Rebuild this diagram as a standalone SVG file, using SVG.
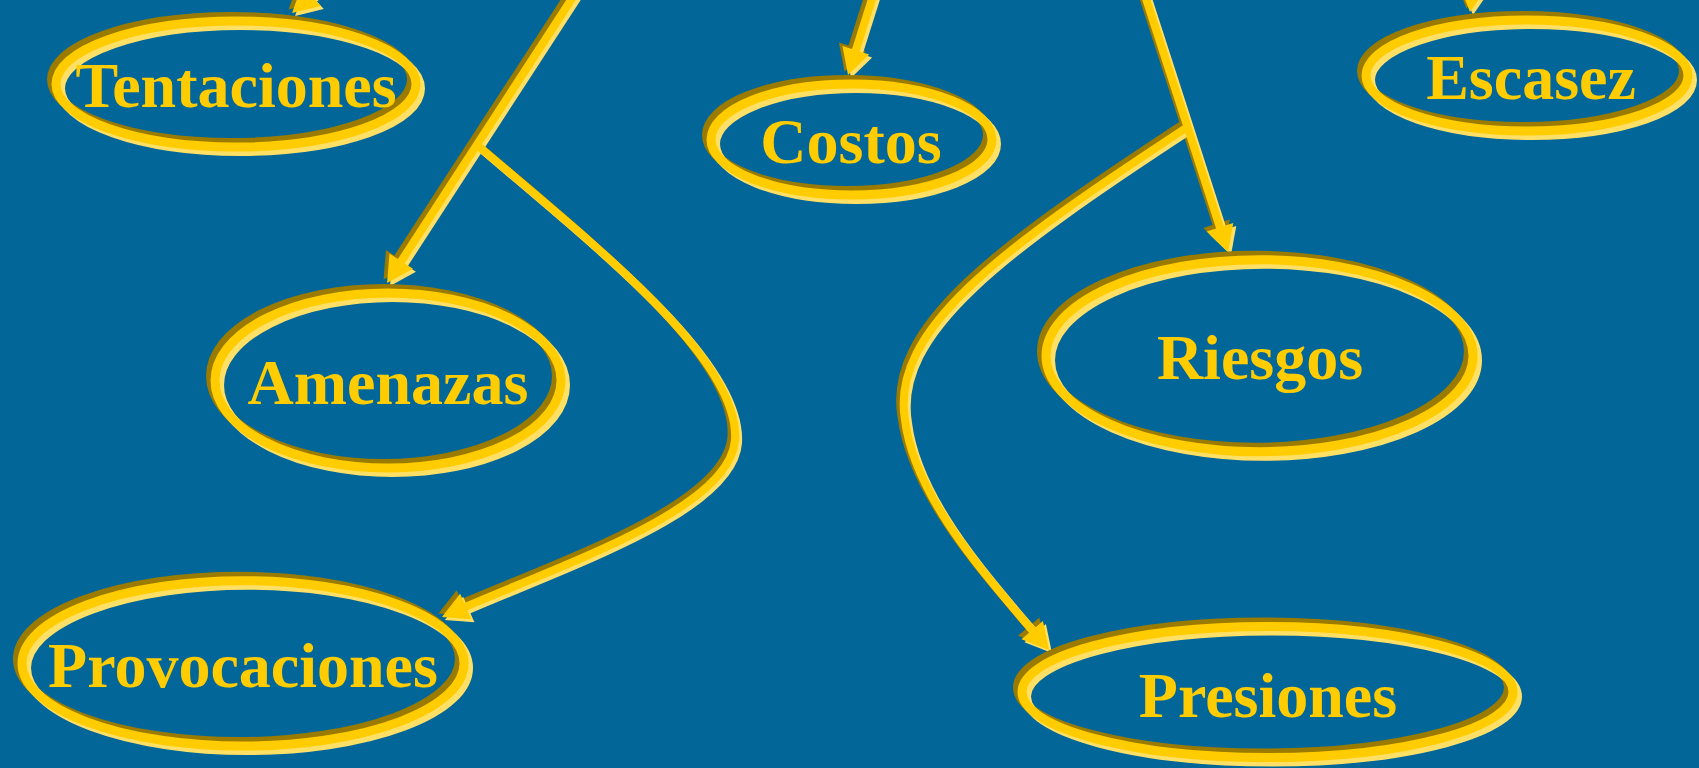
<svg xmlns="http://www.w3.org/2000/svg" xmlns:xlink="http://www.w3.org/1999/xlink" width="1699" height="768" viewBox="0 0 1699 768">
<style>
.bg{fill:#036699}
.e{fill:none;stroke-width:9}
.c{fill:none;stroke-width:8}
.dk{stroke:#9a7b00}
.lt{stroke:#ffe066}
.gd{stroke:#ffcc00}
.c.dk{marker-end:url(#mdk)}
.c.lt{marker-end:url(#mlt)}
.c.gd{marker-end:url(#mgd)}
.lbl{font-family:"Liberation Serif","Times New Roman",serif;font-weight:bold;font-size:64px;fill:#ffcc00;text-anchor:middle}
</style>
<defs>
<marker id="mdk" markerUnits="userSpaceOnUse" viewBox="-22 -16 32 32" refX="0" refY="0" markerWidth="32" markerHeight="32" orient="auto" overflow="visible"><path d="M-18,-14 L8,0 L-18,14 Z" fill="#9a7b00"/></marker>
<marker id="mlt" markerUnits="userSpaceOnUse" viewBox="-22 -16 32 32" refX="0" refY="0" markerWidth="32" markerHeight="32" orient="auto" overflow="visible"><path d="M-18,-14 L8,0 L-18,14 Z" fill="#ffe066"/></marker>
<marker id="mgd" markerUnits="userSpaceOnUse" viewBox="-22 -16 32 32" refX="0" refY="0" markerWidth="32" markerHeight="32" orient="auto" overflow="visible"><path d="M-18,-14 L8,0 L-18,14 Z" fill="#ffcc00"/></marker>
<path id="p1" d="M345,-35 L298,7.7"/>
<path id="p2" d="M584,-20 L391.4,276.3"/>
<path id="p3" d="M477,145 C600,250 740,360 735,440 C730,510 560,565 449.3,613.8"/>
<path id="p4" d="M878,-20 L850.4,67.4"/>
<path id="p5" d="M1140,-20 L1225.5,244.4"/>
<path id="p6" d="M1186,128 C1000,250 890,330 905,420 C915,500 990,580 1043.8,643.9"/>
<path id="p7" d="M1478,-60 L1470.9,4"/>
</defs>
<rect class="bg" x="0" y="0" width="1699" height="768"/>
<g id="connectors">
<use xlink:href="#p1" class="c dk" transform="translate(-3.5,-3.5)"/>
<use xlink:href="#p2" class="c dk" transform="translate(-3.5,-3.5)"/>
<use xlink:href="#p3" class="c dk" transform="translate(-3.5,-3.5)"/>
<use xlink:href="#p4" class="c dk" transform="translate(-3.5,-3.5)"/>
<use xlink:href="#p5" class="c dk" transform="translate(-3.5,-3.5)"/>
<use xlink:href="#p6" class="c dk" transform="translate(-3.5,-3.5)"/>
<use xlink:href="#p7" class="c dk" transform="translate(-3.5,-3.5)"/>
<use xlink:href="#p1" class="c lt" transform="translate(3,3)"/>
<use xlink:href="#p2" class="c lt" transform="translate(3,3)"/>
<use xlink:href="#p3" class="c lt" transform="translate(3,3)"/>
<use xlink:href="#p4" class="c lt" transform="translate(3,3)"/>
<use xlink:href="#p5" class="c lt" transform="translate(3,3)"/>
<use xlink:href="#p6" class="c lt" transform="translate(3,3)"/>
<use xlink:href="#p7" class="c lt" transform="translate(3,3)"/>
<use xlink:href="#p1" class="c gd"/>
<use xlink:href="#p2" class="c gd"/>
<use xlink:href="#p3" class="c gd"/>
<use xlink:href="#p4" class="c gd"/>
<use xlink:href="#p5" class="c gd"/>
<use xlink:href="#p6" class="c gd"/>
<use xlink:href="#p7" class="c gd"/>
</g>
<g id="tentaciones">
<ellipse class="e dk" cx="231.5" cy="79.5" rx="180" ry="63"/>
<ellipse class="e lt" cx="240.5" cy="88.5" rx="180" ry="63"/>
<ellipse class="e gd" cx="236" cy="84" rx="180" ry="63"/>
<text class="lbl" x="236" y="107">Tentaciones</text>
</g>
<g id="costos">
<ellipse class="e dk" cx="847" cy="135" rx="140.5" ry="55.5"/>
<ellipse class="e lt" cx="856" cy="144" rx="140.5" ry="55.5"/>
<ellipse class="e gd" cx="851.5" cy="139.5" rx="140.5" ry="55.5"/>
<text class="lbl" x="851" y="163">Costos</text>
</g>
<g id="escasez">
<ellipse class="e dk" cx="1522.5" cy="71" rx="161" ry="55.5"/>
<ellipse class="e lt" cx="1531.5" cy="80" rx="161" ry="55.5"/>
<ellipse class="e gd" cx="1527" cy="75.5" rx="161" ry="55.5"/>
<text class="lbl" x="1531" y="99">Escasez</text>
</g>
<g id="amenazas">
<ellipse class="e dk" cx="383.5" cy="376" rx="173" ry="87.5"/>
<ellipse class="e lt" cx="392.5" cy="385" rx="173" ry="87.5"/>
<ellipse class="e gd" cx="388" cy="380.5" rx="173" ry="87.5"/>
<text class="lbl" x="388" y="404">Amenazas</text>
</g>
<g id="riesgos">
<ellipse class="e dk" cx="1255" cy="351.2" rx="213.5" ry="96"/>
<ellipse class="e lt" cx="1264" cy="360.2" rx="213.5" ry="96"/>
<ellipse class="e gd" cx="1259.5" cy="355.7" rx="213.5" ry="96"/>
<text class="lbl" x="1260" y="379">Riesgos</text>
</g>
<g id="provocaciones">
<ellipse class="e dk" cx="238.5" cy="658.9" rx="221" ry="82.7"/>
<ellipse class="e lt" cx="247.5" cy="667.9" rx="221" ry="82.7"/>
<ellipse class="e gd" cx="243" cy="663.4" rx="221" ry="82.7"/>
<text class="lbl" x="243" y="687">Provocaciones</text>
</g>
<g id="presiones">
<ellipse class="e dk" cx="1263" cy="687.5" rx="245.5" ry="65.5"/>
<ellipse class="e lt" cx="1272" cy="696.5" rx="245.5" ry="65.5"/>
<ellipse class="e gd" cx="1267.5" cy="692" rx="245.5" ry="65.5"/>
<text class="lbl" x="1268" y="717">Presiones</text>
</g>
</svg>
